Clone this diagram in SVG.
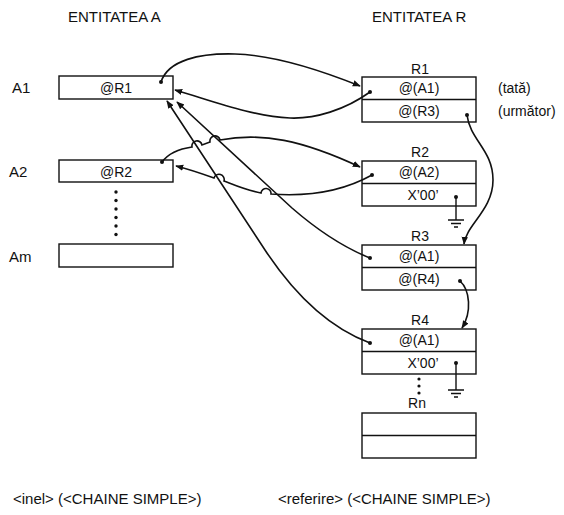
<svg xmlns="http://www.w3.org/2000/svg" width="564" height="515" viewBox="0 0 564 515">
<style>
.box{fill:#fff;stroke:#111;stroke-width:1.4}
.ln{fill:none;stroke:#111;stroke-width:1.4}
.t{font-family:"Liberation Sans",Arial,sans-serif;font-size:14px;fill:#111}
.h{font-size:15px}
.m{text-anchor:middle}
.c{fill:none;stroke:#111;stroke-width:1.6}
.dot{fill:#111}
</style>
<defs>
<marker id="ah" viewBox="0 0 10 10" refX="9" refY="5" markerWidth="8" markerHeight="8" markerUnits="userSpaceOnUse" orient="auto">
<path d="M0,1 L10,5 L0,9 z" fill="#111"/>
</marker>
</defs>
<rect width="564" height="515" fill="#fff"/>

<text class="t h" x="68" y="22">ENTITATEA A</text>
<text class="t h" x="372" y="22">ENTITATEA R</text>

<g id="A1">
<text class="t h" x="12" y="93">A1</text>
<rect class="box" x="59" y="76" width="114" height="23"/>
<text class="t m" x="116" y="93">@R1</text>
</g>
<g id="A2">
<text class="t h" x="9" y="177">A2</text>
<rect class="box" x="59" y="160" width="114" height="22"/>
<text class="t m" x="116" y="177">@R2</text>
</g>
<g id="dotsA">
<circle class="dot" cx="116" cy="192" r="1.7"/>
<circle class="dot" cx="116" cy="200.5" r="1.7"/>
<circle class="dot" cx="116" cy="209" r="1.7"/>
<circle class="dot" cx="116" cy="217.5" r="1.7"/>
<circle class="dot" cx="116" cy="226" r="1.7"/>
<circle class="dot" cx="116" cy="234.5" r="1.7"/>
</g>
<g id="Am">
<text class="t h" x="9" y="262">Am</text>
<rect class="box" x="59" y="244" width="114" height="23"/>
</g>

<g id="R1">
<text class="t m" x="420" y="74">R1</text>
<rect class="box" x="362" y="77" width="114" height="45"/>
<line class="ln" x1="362" y1="99.5" x2="476" y2="99.5"/>
<text class="t m" x="419" y="93">@(A1)</text>
<text class="t m" x="419" y="116">@(R3)</text>
<text class="t" x="498" y="93">(tată)</text>
<text class="t" x="498" y="116">(următor)</text>
</g>
<g id="R2">
<text class="t m" x="420" y="157">R2</text>
<rect class="box" x="362" y="161" width="114" height="45"/>
<line class="ln" x1="362" y1="183.5" x2="476" y2="183.5"/>
<text class="t m" x="419" y="177">@(A2)</text>
<text class="t m" x="423" y="200">X’00’</text>
</g>
<g id="R3">
<text class="t m" x="420" y="241">R3</text>
<rect class="box" x="362" y="245" width="114" height="45"/>
<line class="ln" x1="362" y1="267.5" x2="476" y2="267.5"/>
<text class="t m" x="419" y="261">@(A1)</text>
<text class="t m" x="419" y="284">@(R4)</text>
</g>
<g id="R4">
<text class="t m" x="420" y="325">R4</text>
<rect class="box" x="362" y="329" width="114" height="45"/>
<line class="ln" x1="362" y1="351.5" x2="476" y2="351.5"/>
<text class="t m" x="419" y="345">@(A1)</text>
<text class="t m" x="423" y="368">X’00’</text>
</g>
<g id="dotsR">
<circle class="dot" cx="419" cy="379" r="1.6"/>
<circle class="dot" cx="419" cy="386" r="1.6"/>
<circle class="dot" cx="419" cy="393" r="1.6"/>
</g>
<g id="Rn">
<text class="t m" x="417" y="408">Rn</text>
<rect class="box" x="362" y="413" width="114" height="45"/>
<line class="ln" x1="362" y1="435.5" x2="476" y2="435.5"/>
</g>

<g id="connectors">
<circle class="dot" cx="161" cy="82" r="2"/>
<path class="c" d="M161,82 C168,60 200,53 235,54 C275,55 320,70 360,86" marker-end="url(#ah)"/>
<circle class="dot" cx="370" cy="92" r="2"/>
<path class="c" d="M370,92 C345,110 315,119 290,118 C250,116 210,100 175,90" marker-end="url(#ah)"/>
<circle class="dot" cx="370" cy="258" r="2"/>
<path class="c" d="M370,258 C340,246 315,228 292,208 L177,102" marker-end="url(#ah)"/>
<circle class="dot" cx="370" cy="343" r="2"/>
<path class="c" d="M370,343 C335,330 298,300 265,250 L167,101" marker-end="url(#ah)"/>
<circle class="dot" cx="162" cy="162" r="2"/>
<path class="c" d="M162,162 C168,154 178,149 192,147 a5,5 0 0 1 10,-2 L210,142 a5,5 0 0 1 10,-2 C262,132 302,140 360,167" marker-end="url(#ah)"/>
<circle class="dot" cx="372" cy="175" r="2"/>
<path class="c" d="M372,175 C345,190 310,197 271,194 a5,5 0 0 0 -10,-1 C245,190 232,184 224,181 a5,5 0 0 0 -10,-3 C200,173 188,169 176,166" marker-end="url(#ah)"/>
<circle class="dot" cx="467" cy="115" r="2"/>
<path class="c" d="M467,115 C470,140 493,150 493,180 C493,210 466,225 464,244" marker-end="url(#ah)"/>
<circle class="dot" cx="460" cy="281" r="2"/>
<path class="c" d="M460,281 C470,290 472,312 462,328" marker-end="url(#ah)"/>
<circle class="dot" cx="456" cy="197" r="2"/>
<path class="ln" d="M456,197 V220 M448,220 H464 M451,223.5 H461 M454,227 H458"/>
<circle class="dot" cx="456" cy="363" r="2"/>
<path class="ln" d="M456,363 V390 M448,390 H464 M451,393.5 H461 M454,397 H458"/>
</g>

<text class="t h" x="13" y="504">&lt;inel&gt; (&lt;CHAINE SIMPLE&gt;)</text>
<text class="t h" x="278" y="504">&lt;referire&gt; (&lt;CHAINE SIMPLE&gt;)</text>
</svg>
